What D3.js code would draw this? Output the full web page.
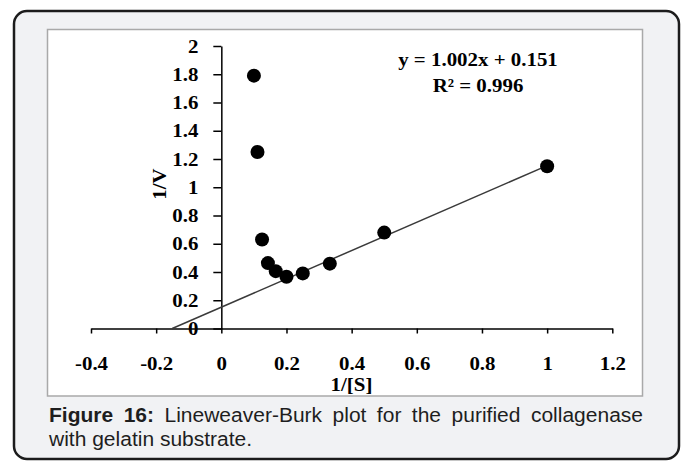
<!DOCTYPE html>
<html>
<head>
<meta charset="utf-8">
<script src="https://cdn.jsdelivr.net/npm/d3@7"></script>
<style>
  html, body { margin: 0; padding: 0; background: #ffffff; }
  svg { display: block; }
</style>
</head>
<body>
<svg id="fig" width="685" height="462"></svg>
<script>
// Lineweaver-Burk data: 1/[S] against 1/V
const invS = [0.1, 0.111, 0.125, 0.143, 0.167, 0.2, 0.25, 0.333, 0.5, 1.0];
const invV = [1.79, 1.25, 0.63, 0.463, 0.406, 0.366, 0.39, 0.459, 0.679, 1.149];

// Linear fit reported on the chart
const slope = 1.002;
const intercept = 0.151;
const rSquared = 0.996;

const xTicks = [-0.4, -0.2, 0, 0.2, 0.4, 0.6, 0.8, 1, 1.2];
const xTickLabels = ["-0.4", "-0.2", "0", "0.2", "0.4", "0.6", "0.8", "1", "1.2"];
const yTicks = [0, 0.2, 0.4, 0.6, 0.8, 1, 1.2, 1.4, 1.6, 1.8, 2];
const yTickLabels = ["0", "0.2", "0.4", "0.6", "0.8", "1", "1.2", "1.4", "1.6", "1.8", "2"];

const xTitle = "1/[S]";
const yTitle = "1/V";
const captionBold = "Figure 16:";
const captionLine1 = "Lineweaver-Burk plot for the purified collagenase";
const captionLine2 = "with gelatin substrate.";

const svg = d3.select("#fig");
const serif = "'Liberation Serif', 'Times New Roman', serif";
const sans = "'Liberation Sans', Arial, sans-serif";

// widen a text element horizontally by a factor
function widen(sel, k) {
  sel.each(function () {
    const w = this.getComputedTextLength();
    d3.select(this).attr("textLength", w * k).attr("lengthAdjust", "spacingAndGlyphs");
  });
}

// Figure frame
svg.append("rect")
  .attr("x", 14).attr("y", 11).attr("width", 665).attr("height", 448)
  .attr("rx", 13).attr("ry", 13)
  .attr("fill", "#f1f2f4").attr("stroke", "#1c1c1c").attr("stroke-width", 2.5);

// Chart panel
svg.append("rect")
  .attr("x", 47.5).attr("y", 29.5).attr("width", 595).attr("height", 366.5)
  .attr("fill", "#ffffff").attr("stroke", "#a9a9a9").attr("stroke-width", 1.5);

const x = d3.scaleLinear().domain([-0.4, 1.2]).range([91, 612.3]);
const y = d3.scaleLinear().domain([0, 2]).range([328.5, 46]);

// x axis
const gx = svg.append("g")
  .attr("transform", `translate(0,${y(0)})`)
  .call(d3.axisBottom(x)
    .tickValues(xTicks)
    .tickFormat((d, i) => xTickLabels[i])
    .tickSize(5)
    .tickSizeOuter(0));
gx.select(".domain").attr("stroke", "#000").attr("stroke-width", 1.5);
gx.selectAll(".tick line").attr("stroke", "#000").attr("stroke-width", 1.5);
gx.selectAll(".tick text")
  .attr("y", 41.5).attr("dy", null)
  .attr("fill", "#000")
  .style("font-family", serif).style("font-size", "19px").style("font-weight", "bold");
widen(gx.selectAll(".tick text"), 1.1);

// y axis
const gy = svg.append("g")
  .attr("transform", `translate(${x(0)},0)`)
  .call(d3.axisLeft(y)
    .tickValues(yTicks)
    .tickFormat((d, i) => yTickLabels[i])
    .tickSize(8)
    .tickPadding(15)
    .tickSizeOuter(0));
gy.select(".domain").attr("stroke", "#000").attr("stroke-width", 1.5);
gy.selectAll(".tick line").attr("stroke", "#000").attr("stroke-width", 1.5);
gy.selectAll(".tick text")
  .attr("fill", "#000")
  .style("font-family", serif).style("font-size", "19px").style("font-weight", "bold");
widen(gy.selectAll(".tick text"), 1.1);

// fitted line from the x intercept to the last point
const xStart = -intercept / slope;
const xEnd = d3.max(invS);
svg.append("line")
  .attr("x1", x(xStart)).attr("y1", y(slope * xStart + intercept))
  .attr("x2", x(xEnd)).attr("y2", y(slope * xEnd + intercept))
  .attr("stroke", "#3a3a3a").attr("stroke-width", 1.5);

// data points
svg.append("g").selectAll("circle")
  .data(invS.map((s, i) => ({ s, v: invV[i] })))
  .join("circle")
  .attr("cx", d => x(d.s)).attr("cy", d => y(d.v))
  .attr("r", 7).attr("fill", "#000");

// axis titles
const xt = svg.append("text")
  .attr("x", 351.5).attr("y", 391)
  .attr("text-anchor", "middle")
  .style("font-family", serif).style("font-size", "19px").style("font-weight", "bold")
  .text(xTitle);
widen(xt, 1.1);

const yt = svg.append("text")
  .attr("transform", "translate(166,184) rotate(-90)")
  .attr("text-anchor", "middle")
  .style("font-family", serif).style("font-size", "19px").style("font-weight", "bold")
  .text(yTitle);
widen(yt, 1.1);

// regression annotation
const eq = svg.append("g")
  .style("font-family", serif).style("font-size", "19px").style("font-weight", "bold");
eq.append("text").attr("x", 478).attr("y", 66).attr("text-anchor", "middle")
  .text(`y = ${slope.toFixed(3)}x + ${intercept.toFixed(3)}`);
eq.append("text").attr("x", 478).attr("y", 92).attr("text-anchor", "middle")
  .text(`R² = ${rSquared.toFixed(3)}`);
widen(eq.selectAll("text"), 1.1);

// caption, first line justified between the panel edges
const capLeft = 49, capRight = 643;
const words = [
  { t: "Figure", b: true },
  { t: "16:", b: true },
  ...captionLine1.split(" ").map(t => ({ t, b: false }))
];
const cap = svg.append("g").style("font-family", sans).style("font-size", "20px").attr("fill", "#1e1e1e");
const ws = cap.selectAll("text.w").data(words).join("text")
  .attr("class", "w")
  .attr("y", 422)
  .style("font-weight", d => d.b ? "bold" : "normal")
  .text(d => d.t);
widen(ws, 1.05);
const widths = [];
ws.each(function () { widths.push(+d3.select(this).attr("textLength")); });
const gap = (capRight - capLeft - d3.sum(widths)) / (widths.length - 1);
let cx = capLeft;
ws.each(function (d, i) { d3.select(this).attr("x", cx); cx += widths[i] + gap; });

const l2 = cap.append("text").attr("x", capLeft).attr("y", 446).text(captionLine2);
widen(l2, 1.05);
</script>
</body>
</html>
